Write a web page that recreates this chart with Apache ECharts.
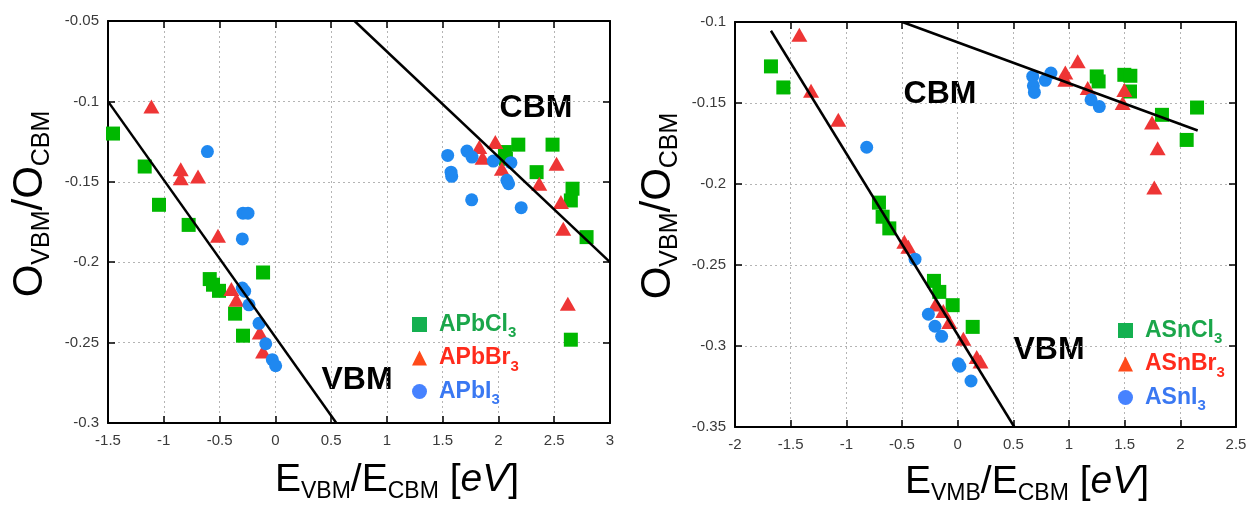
<!DOCTYPE html>
<html>
<head>
<meta charset="utf-8">
<title>Orbital weight vs band edge energy</title>
<script src="https://cdn.jsdelivr.net/npm/echarts@6/dist/echarts.min.js"></script>
<style>
  html, body { margin: 0; padding: 0; background: #fff; }
  #chart { width: 1254px; height: 510px; }
</style>
</head>
<body>
<div id="chart"></div>
<script>
// ---- lead halide perovskites: [E (eV), O] ----
const apbcl3 = [
  [-1.455, -0.120], [-1.171, -0.1405], [-1.043, -0.1643], [-0.777, -0.1768],
  [-0.588, -0.2105], [-0.559, -0.214], [-0.505, -0.2178], [-0.361, -0.232],
  [-0.290, -0.2457], [-0.110, -0.2064],
  [2.178, -0.1269], [2.485, -0.1269], [2.058, -0.1315], [2.067, -0.1357],
  [2.342, -0.144], [2.664, -0.1543], [2.649, -0.1616], [2.790, -0.1844],
  [2.649, -0.2482]
];
const apbbr3 = [
  [-1.111, -0.1032], [-0.848, -0.1422], [-0.848, -0.1478], [-0.693, -0.1467],
  [-0.514, -0.1836], [-0.394, -0.2167], [-0.349, -0.2234], [-0.140, -0.2437],
  [-0.110, -0.2555],
  [1.972, -0.1253], [1.828, -0.1284], [1.858, -0.135], [2.031, -0.1419],
  [2.521, -0.1388], [2.366, -0.1512], [2.560, -0.1626], [2.581, -0.1792],
  [2.622, -0.2258]
];
const apbi3 = [
  [-0.609, -0.1312], [-0.290, -0.1695], [-0.245, -0.1695], [-0.296, -0.1855],
  [-0.296, -0.2161], [-0.275, -0.218], [-0.236, -0.2265], [-0.146, -0.238],
  [-0.086, -0.2507], [-0.027, -0.2606], [0.003, -0.2644],
  [1.545, -0.1336], [1.575, -0.144], [1.581, -0.1466], [1.718, -0.1309],
  [1.763, -0.1346], [1.954, -0.1371], [2.112, -0.1381], [2.076, -0.1491],
  [2.091, -0.1512], [1.760, -0.1612], [2.204, -0.1661]
];

// ---- tin halide perovskites: [E (eV), O] ----
const asncl3 = [
  [-1.677, -0.1274], [-1.566, -0.1404], [-0.707, -0.2115], [-0.674, -0.2202],
  [-0.614, -0.2274], [-0.213, -0.2598], [-0.165, -0.2666], [-0.045, -0.2748],
  [0.135, -0.2882],
  [1.249, -0.1336], [1.266, -0.1367], [1.497, -0.1326], [1.551, -0.1332],
  [1.548, -0.1429], [1.835, -0.1573], [2.150, -0.1528], [2.057, -0.1728]
];
const asnbr3 = [
  [-1.422, -0.1078], [-1.317, -0.1425], [-1.072, -0.1604], [-0.479, -0.2357],
  [-0.443, -0.2388], [-0.198, -0.2744], [-0.129, -0.2784], [-0.075, -0.2852],
  [0.051, -0.2955], [0.171, -0.3068], [0.205, -0.3095],
  [0.967, -0.1311], [1.078, -0.1243], [0.967, -0.1357], [1.168, -0.1408],
  [1.497, -0.1419], [1.482, -0.150], [1.746, -0.1621], [1.796, -0.1779],
  [1.766, -0.2021]
];
const asni3 = [
  [-0.817, -0.1773], [-0.383, -0.2464], [-0.263, -0.2804], [-0.204, -0.2878],
  [-0.144, -0.294], [0.006, -0.311], [0.020, -0.3125], [0.120, -0.3216],
  [0.674, -0.1336], [0.680, -0.1394], [0.689, -0.1435], [0.787, -0.136],
  [0.838, -0.1315], [1.198, -0.148], [1.272, -0.1522]
];

// ---- linear trends of the band edges ----
const pbVbmTrend = [[-1.5, -0.1], [0.547, -0.3]];
const pbCbmTrend = [[0.71, -0.05], [3.0, -0.2]];
const snCbmTrend = [[-0.497, -0.1], [2.156, -0.167]];
const snVbmTrend = [[-1.677, -0.1054], [0.509, -0.35]];

// ---- axis ranges ----
const pbXRange = { min: -1.5, max: 3, interval: 0.5 };
const pbYRange = { min: -0.3, max: -0.05, interval: 0.05 };
const snXRange = { min: -2, max: 2.5, interval: 0.5 };
const snYRange = { min: -0.35, max: -0.1, interval: 0.05 };

const FONT = '"Liberation Sans", Arial, Helvetica, sans-serif';
const GREEN = '#00b800', RED = '#ee3535', BLUE = '#1f88f0';

function axis(range, gridIndex, position, main) {
  return {
    type: 'value', gridIndex, position,
    min: range.min, max: range.max, interval: range.interval,
    axisLine: { show: true, onZero: false, lineStyle: { color: '#000', width: 2 } },
    axisTick: { show: true, inside: true, length: 7, lineStyle: { color: '#000', width: 1.5 } },
    axisLabel: {
      show: main, color: '#3a3a3a', fontSize: 15, fontFamily: FONT,
      margin: (position === 'bottom') ? 10 : 9
    },
    splitLine: { show: main, lineStyle: { color: '#b4b4b4', width: 1, type: [2, 3] } }
  };
}

function scatter(name, data, symbol, size, color, xi, yi) {
  return {
    name, type: 'scatter', data, symbol, symbolSize: size,
    xAxisIndex: xi, yAxisIndex: yi,
    itemStyle: { color, opacity: 1 }, z: 3
  };
}

function trend(data, xi, yi) {
  return {
    type: 'line', data, xAxisIndex: xi, yAxisIndex: yi,
    showSymbol: false, symbol: 'none', clip: true, silent: true,
    lineStyle: { color: '#000', width: 2.5 }, z: 5
  };
}

// legend labels with subscripts (tall main line box lets the subscript sit low)
function legendToken(color, sub) {
  return sub
    ? { color, fontSize: 15, fontWeight: 'bold', fontFamily: FONT, verticalAlign: 'bottom' }
    : { color, fontSize: 23, fontWeight: 'bold', fontFamily: FONT, lineHeight: 32, padding: [0, 0, 0, 7] };
}
const legendRich = {
  g: legendToken('#1aa64a', false), gs: legendToken('#1aa64a', true),
  r: legendToken('#ff2b1c', false), rs: legendToken('#ff2b1c', true),
  b: legendToken('#3a78f2', false), bs: legendToken('#3a78f2', true)
};
const legendKeys = {
  APbCl3: '{g|APbCl}{gs|3}', APbBr3: '{r|APbBr}{rs|3}', APbI3: '{b|APbI}{bs|3}',
  ASnCl3: '{g|ASnCl}{gs|3}', ASnBr3: '{r|ASnBr}{rs|3}', ASnI3: '{b|ASnI}{bs|3}'
};

function legend(names, left, top) {
  const icons = [
    { icon: 'rect', color: '#14b050' },
    { icon: 'triangle', color: '#ff4a1a' },
    { icon: 'circle', color: '#4682ff' }
  ];
  return {
    orient: 'vertical', left, top, padding: 0,
    itemWidth: 15, itemHeight: 15, itemGap: 6, selectedMode: false,
    data: names.map((n, i) => ({ name: n, icon: icons[i].icon, itemStyle: { color: icons[i].color } })),
    formatter: n => legendKeys[n],
    textStyle: { rich: legendRich }
  };
}

// axis titles with subscripts
const titleRich = (big, small, subLH) => ({
  m: { fontSize: big, fontFamily: FONT, color: '#000', lineHeight: big + 7 },
  s: { fontSize: small, fontFamily: FONT, color: '#000', lineHeight: subLH, verticalAlign: 'bottom' },
  i: { fontSize: big, fontFamily: FONT, fontStyle: 'italic', color: '#000', lineHeight: big + 7 }
});

function titleText(text, x, y, rotation, rich, align) {
  return {
    type: 'text', x, y, rotation, silent: true,
    style: {
      text, rich, fill: '#000', font: '39px ' + FONT,
      align: align, textAlign: align, verticalAlign: 'middle', textVerticalAlign: 'middle'
    }
  };
}

function bandLabel(text, x, y) {
  return {
    type: 'text', x, y, silent: true,
    style: {
      text, fill: '#000', font: 'bold 32px ' + FONT,
      align: 'center', textAlign: 'center', verticalAlign: 'middle', textVerticalAlign: 'middle'
    }
  };
}

const option = {
  animation: false,
  backgroundColor: '#fff',
  grid: [
    { left: 108, top: 21, width: 502, height: 402 },
    { left: 735, top: 22, width: 501, height: 405 }
  ],
  xAxis: [
    axis(pbXRange, 0, 'bottom', true), axis(pbXRange, 0, 'top', false),
    axis(snXRange, 1, 'bottom', true), axis(snXRange, 1, 'top', false)
  ],
  yAxis: [
    axis(pbYRange, 0, 'left', true), axis(pbYRange, 0, 'right', false),
    axis(snYRange, 1, 'left', true), axis(snYRange, 1, 'right', false)
  ],
  legend: [
    legend(['APbCl3', 'APbBr3', 'APbI3'], 412, 313),
    legend(['ASnCl3', 'ASnBr3', 'ASnI3'], 1118, 319)
  ],
  series: [
    scatter('APbCl3', apbcl3, 'rect', 14, GREEN, 0, 0),
    scatter('APbBr3', apbbr3, 'triangle', [16, 14], RED, 0, 0),
    scatter('APbI3', apbi3, 'circle', 13, BLUE, 0, 0),
    trend(pbVbmTrend, 0, 0),
    trend(pbCbmTrend, 0, 0),
    scatter('ASnCl3', asncl3, 'rect', 14, GREEN, 2, 2),
    scatter('ASnBr3', asnbr3, 'triangle', [16, 14], RED, 2, 2),
    scatter('ASnI3', asni3, 'circle', 13, BLUE, 2, 2),
    trend(snCbmTrend, 2, 2),
    trend(snVbmTrend, 2, 2)
  ],
  graphic: [
    bandLabel('CBM', 536, 108),
    bandLabel('VBM', 357, 380),
    bandLabel('CBM', 940, 94),
    bandLabel('VBM', 1049, 350),
    titleText('{m|E}{s|VBM}{m|/E}{s|CBM}{m| [}{i|eV}{m|]}', 275, 480, 0, titleRich(39, 23, 18), 'left'),
    titleText('{m|E}{s|VMB}{m|/E}{s|CBM}{m| [}{i|eV}{m|]}', 905, 482, 0, titleRich(39, 23, 18), 'left'),
    titleText('{m|O}{s|VBM}{m|/O}{s|CBM}', 30, 204, Math.PI / 2, titleRich(42, 25, 19), 'center'),
    titleText('{m|O}{s|VBM}{m|/O}{s|CBM}', 658, 206, Math.PI / 2, titleRich(42, 25, 19), 'center')
  ]
};

const chart = echarts.init(document.getElementById('chart'), null, { renderer: 'canvas' });
chart.setOption(option);
</script>
</body>
</html>
